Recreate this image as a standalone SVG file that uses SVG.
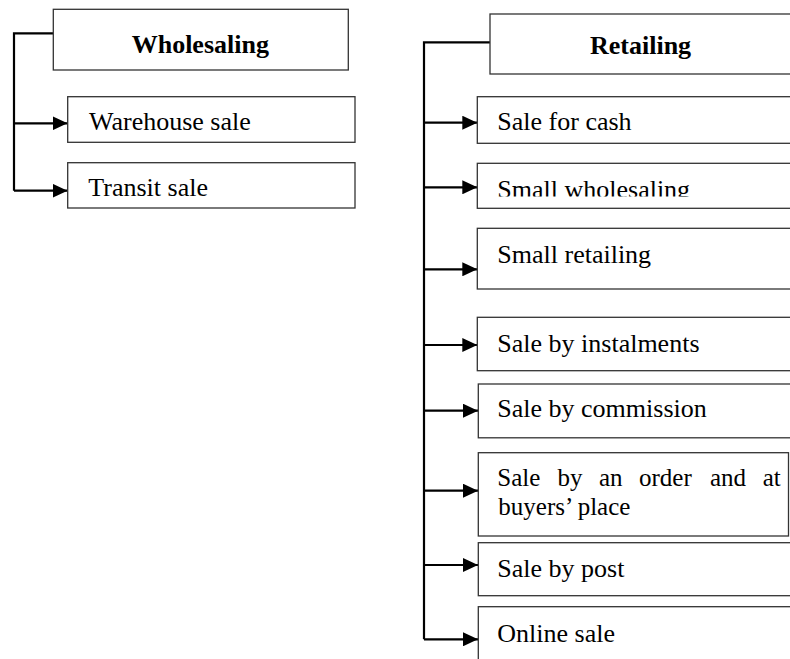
<svg xmlns="http://www.w3.org/2000/svg" width="790" height="659" viewBox="0 0 790 659">
  <style>
    .box { fill: #ffffff; stroke: #333333; stroke-width: 1.3; }
    .lbl { font-family: "Liberation Serif", "Times New Roman", serif; font-size: 26px; fill: #000000; }
    .head { font-weight: bold; }
    .tight { font-size: 25px; }
    .link { fill: none; stroke: #000000; stroke-width: 2.2; }
  </style>
  <defs>
    <marker id="arrow" markerUnits="userSpaceOnUse" markerWidth="16" markerHeight="14" refX="15" refY="7" orient="auto">
      <path d="M0,0 L15,7 L0,14 Z" fill="#000000"/>
    </marker>
    <clipPath id="clip-small-wholesaling">
      <rect x="478" y="164" width="320" height="32.5"/>
    </clipPath>
  </defs>
  <rect width="790" height="659" fill="#ffffff"/>

  <!-- connectors -->
  <g id="connectors">
    <path class="link" d="M53,33.3 H14 V190.7"/>
    <path class="link" d="M14,123.3 H67.5" marker-end="url(#arrow)"/>
    <path class="link" d="M14,190.7 H67.5" marker-end="url(#arrow)"/>
    <path class="link" d="M490,42.3 H424 V639.3"/>
    <path class="link" d="M424,122.7 H477.3" marker-end="url(#arrow)"/>
    <path class="link" d="M424,187.3 H477.3" marker-end="url(#arrow)"/>
    <path class="link" d="M424,269.3 H477.3" marker-end="url(#arrow)"/>
    <path class="link" d="M424,345 H477.3" marker-end="url(#arrow)"/>
    <path class="link" d="M424,410.7 H478" marker-end="url(#arrow)"/>
    <path class="link" d="M424,490.7 H478" marker-end="url(#arrow)"/>
    <path class="link" d="M424,565 H478" marker-end="url(#arrow)"/>
    <path class="link" d="M424,639.3 H478" marker-end="url(#arrow)"/>
  </g>

  <!-- wholesaling branch -->
  <g id="wholesaling">
    <rect class="box" x="53.3" y="9.3" width="295" height="60.7"/>
    <text class="lbl head" x="131.7" y="53.3">Wholesaling</text>
  </g>
  <g id="warehouse-sale">
    <rect class="box" x="67.7" y="96.7" width="287.3" height="45.6"/>
    <text class="lbl" x="89" y="130">Warehouse sale</text>
  </g>
  <g id="transit-sale">
    <rect class="box" x="67.7" y="162.7" width="287.3" height="45.3"/>
    <text class="lbl" x="88.3" y="196">Transit sale</text>
  </g>

  <!-- retailing branch -->
  <g id="retailing">
    <rect class="box" x="490" y="14" width="320" height="60"/>
    <text class="lbl head" x="590" y="54">Retailing</text>
  </g>
  <g id="sale-for-cash">
    <rect class="box" x="477.3" y="96.7" width="330" height="46.6"/>
    <text class="lbl" x="497.3" y="130">Sale for cash</text>
  </g>
  <g id="small-wholesaling">
    <rect class="box" x="477.3" y="163.3" width="330" height="45"/>
    <text class="lbl" x="497.3" y="197.5" clip-path="url(#clip-small-wholesaling)">Small wholesaling</text>
  </g>
  <g id="small-retailing">
    <rect class="box" x="477.3" y="228.3" width="330" height="60.7"/>
    <text class="lbl" x="497.3" y="263.3">Small retailing</text>
  </g>
  <g id="sale-by-instalments">
    <rect class="box" x="477.3" y="317.3" width="330" height="53.4"/>
    <text class="lbl" x="497.3" y="351.7">Sale by instalments</text>
  </g>
  <g id="sale-by-commission">
    <rect class="box" x="478.3" y="384" width="330" height="53.8"/>
    <text class="lbl" x="497.3" y="417.3">Sale by commission</text>
  </g>
  <g id="sale-by-order">
    <rect class="box" x="478.3" y="452.7" width="310.2" height="83.3"/>
    <!-- two-line label, first line justified word by word -->
    <text class="lbl tight" y="485.5"><tspan x="497.3">Sale</tspan><tspan x="557.5">by</tspan><tspan x="599">an</tspan><tspan x="639">order</tspan><tspan x="710">and</tspan><tspan x="762.7">at</tspan><tspan x="498.3" y="514.5">buyers’ place</tspan></text>
  </g>
  <g id="sale-by-post">
    <rect class="box" x="478.3" y="542.7" width="330" height="53"/>
    <text class="lbl" x="497.3" y="576.7">Sale by post</text>
  </g>
  <g id="online-sale">
    <rect class="box" x="478.3" y="606.7" width="330" height="70"/>
    <text class="lbl" x="497.3" y="641.7">Online sale</text>
  </g>
</svg>
